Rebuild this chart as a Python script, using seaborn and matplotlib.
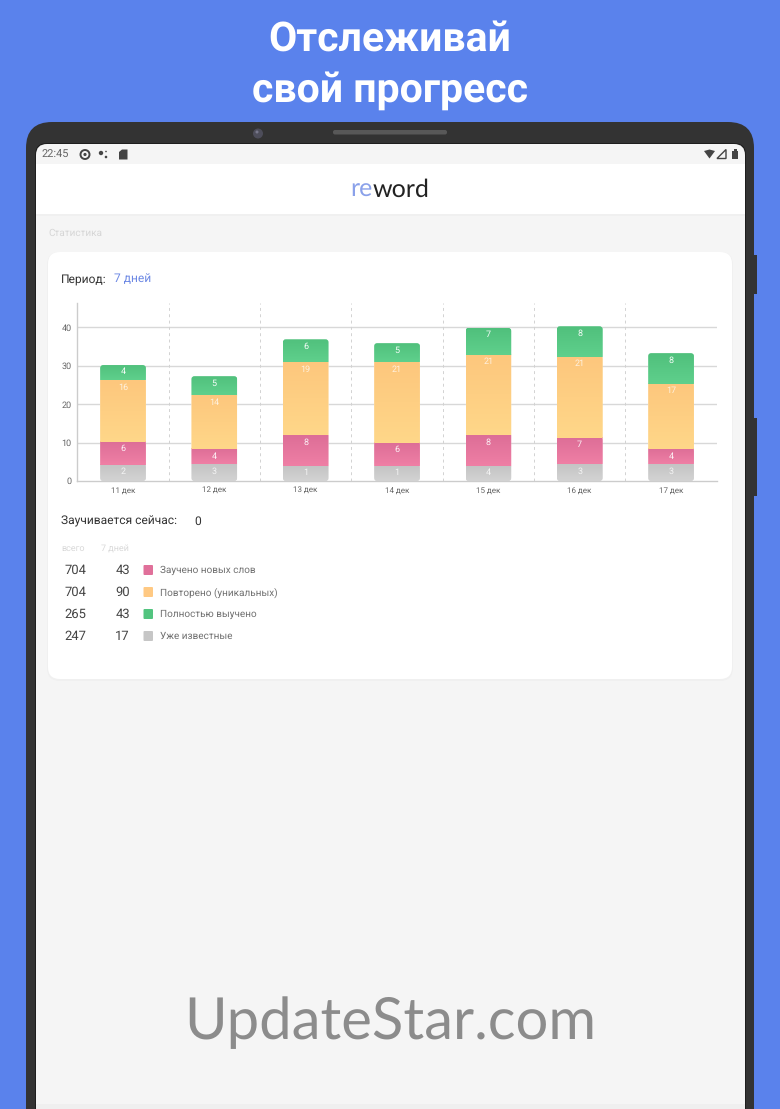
"""reword: экран статистики, столбцы за 7 дней внутри рамки планшета."""

import matplotlib.pyplot as plt
import numpy as np
import pandas as pd
import seaborn as sns
from matplotlib.colors import LinearSegmentedColormap
from matplotlib.patches import Circle, FancyBboxPatch, Polygon, Rectangle
from matplotlib.transforms import IdentityTransform

W, H = 780, 1109

DAYS = ["11 дек", "12 дек", "13 дек", "14 дек", "15 дек", "16 дек", "17 дек"]
# серые столбцы на экране выше своих подписей, поэтому высоты отдельно
KNOWN_HEIGHT = [4.2, 4.3, 3.9, 3.9, 3.9, 4.3, 4.3]
KNOWN_LABEL = [2, 3, 1, 1, 4, 3, 3]
NEW_WORDS = [6, 4, 8, 6, 8, 7, 4]
REPEATED = [16, 14, 19, 21, 21, 21, 17]
LEARNED = [4, 5, 6, 5, 7, 8, 8]
Y_TICKS = [0, 10, 20, 30, 40]

LEGEND_NAMES = ["Заучено новых слов", "Повторено (уникальных)", "Полностью выучено", "Уже известные"]
LEGEND_TOTAL = [704, 704, 265, 247]
LEGEND_WEEK = [43, 90, 43, 17]
LEGEND_COLORS = ["#E0709A", "#FFC983", "#52C47F", "#C6C6C6"]

BLUE = "#5A82EC"
DARK = "#333333"
LIGHT_BG = "#F5F5F5"
ACCENT = "#6C88E4"


def px_text(ax, x, y, s, size, color="#333333", **kw):
    # size в пикселях экрана, при dpi=100 1px = 0.72pt
    kw.setdefault("va", "center")
    kw.setdefault("ha", "left")
    return ax.text(x, y, s, fontsize=size * 0.72, color=color, **kw)


def rbox(ax, x0, y0, x1, y1, r, color, **kw):
    patch = FancyBboxPatch((x0 + r, y0 + r), x1 - x0 - 2 * r, y1 - y0 - 2 * r,
                           boxstyle=f"round,pad={r},rounding_size={r}",
                           fc=color, ec="none", **kw)
    ax.add_patch(patch)
    return patch


def draw_chrome(ax):
    ax.set_xlim(0, W)
    ax.set_ylim(H, 0)
    ax.axis("off")
    ax.add_patch(Rectangle((0, 0), W, H, fc=BLUE, ec="none"))

    px_text(ax, 390, 51, "Отслеживай", 41.2, "white", ha="center", va="baseline", weight="bold")
    px_text(ax, 390, 102, "свой прогресс", 41.2, "white", ha="center", va="baseline", weight="bold")

    # корпус
    ax.add_patch(Rectangle((754, 255), 3, 39, fc=DARK, ec="none"))
    ax.add_patch(Rectangle((754, 418), 3, 78, fc=DARK, ec="none"))
    rbox(ax, 26, 122, 754, H + 60, 26, DARK)
    rbox(ax, 35, 143, 746, H + 40, 12, "#1E1E1E")
    rbox(ax, 36, 144, 745, H + 40, 11, LIGHT_BG)
    ax.add_patch(Circle((258, 133.5), 5, fc="#4D4D5A", ec="none"))
    ax.add_patch(Circle((257, 132), 1.5, fc="#77778A", ec="none"))
    rbox(ax, 333, 130, 447, 134.5, 2, "#585858")

    # статус-бар
    px_text(ax, 42, 155, "22:45", 11, "#666666")
    ax.add_patch(Circle((85, 154.5), 4.5, fc="none", ec="#444444", lw=1.4))
    ax.add_patch(Circle((85, 154.5), 1.6, fc="#444444", ec="none"))
    ax.add_patch(Circle((101, 153), 2.2, fc="#444444", ec="none"))
    ax.add_patch(Circle((106, 151.5), 0.8, fc="#444444", ec="none"))
    ax.add_patch(Circle((106, 157), 1.3, fc="#444444", ec="none"))
    ax.add_patch(Polygon([[119, 152], [122, 149.5], [127.5, 149.5], [127.5, 159.5], [119, 159.5]],
                         fc="#444444", ec="none"))
    ax.add_patch(Polygon([[704, 151], [709.5, 149.5], [715, 151], [709.5, 158.5]], fc="#444444", ec="none"))
    ax.add_patch(Polygon([[717, 158.5], [726, 149.5], [726, 158.5]], fc="none", ec="#444444", lw=1))
    ax.add_patch(Rectangle((732, 150.5), 6, 8.5, fc="#444444", ec="none"))
    ax.add_patch(Rectangle((733.5, 149), 3, 2, fc="#444444", ec="none"))

    # шапка
    ax.add_patch(Rectangle((36, 164), 709, 49.5, fc="white", ec="none"))
    ax.add_patch(Rectangle((36, 213.5), 709, 2, fc="#F0F0F0", ec="none"))
    px_text(ax, 372.5, 190, "re", 25, "#8AA1EA", ha="right", family="Lato")
    px_text(ax, 372.5, 190, "word", 25, "#222222", family="Lato")
    px_text(ax, 48, 233.5, "Статистика", 10, "#D6D6D6")

    # карточка с тенью
    rbox(ax, 47, 252, 733, 681, 13, "#F0F0F0")
    rbox(ax, 48, 252, 732, 679, 12, "white")

    px_text(ax, 61, 279, "Период:", 12.3, "#333333")
    px_text(ax, 114, 279, "7 дней", 12.3, ACCENT)
    px_text(ax, 61, 521.5, "Заучивается сейчас:", 12.3, "#333333")
    px_text(ax, 194, 521.5, "0", 12.3, "#333333")

    px_text(ax, 61, 548.5, "всего", 9.5, "#D8D8D8")
    px_text(ax, 101, 548.5, "7 дней", 9.5, "#D8D8D8")
    row_y = [570, 592, 614, 636]
    for y, name, total, week, color in zip(row_y, LEGEND_NAMES, LEGEND_TOTAL, LEGEND_WEEK, LEGEND_COLORS):
        px_text(ax, 86, y + 0.5, str(total), 13, "#444444", ha="right")
        px_text(ax, 130, y + 0.5, str(week), 13, "#444444", ha="right")
        rbox(ax, 143.5, y - 5, 153, y + 5, 1, color)
        px_text(ax, 160, y + 0.5, name, 9.7, "#707070")

    # низ экрана и водяной знак
    ax.add_patch(Rectangle((36, 1104), 709, 5, fc="#EFEFEF", ec="none"))
    px_text(ax, 390, 1039, "UpdateStar.com", 58, "#8C8C8C", ha="center", va="baseline", family="Lato")


def draw_chart(fig):
    left, right, top, bottom = 77.3, 716.7, 303, 481
    ax = fig.add_axes([left / W, 1 - bottom / H, (right - left) / W, (bottom - top) / H])
    ax.patch.set_alpha(0)

    bases = np.zeros(len(DAYS))
    series = [
        (KNOWN_HEIGHT, KNOWN_LABEL, ("#C4C4C4", "#D3D3D3"), 0.8),
        (NEW_WORDS, NEW_WORDS, ("#DD6E97", "#EF7FA5"), 0.9),
        (REPEATED, REPEATED, ("#FDC77D", "#FFD789"), 0.75),
        (LEARNED, LEARNED, ("#50C07C", "#5FD08C"), 0.95),
    ]
    ymax = (bottom - top) / 3.84
    tops = []
    for heights, labels, shades, alpha in series:
        df = pd.DataFrame({"day": DAYS, "value": heights})
        sns.barplot(data=df, x="day", y="value", order=DAYS, color=shades[1], saturation=1,
                    width=0.5, bottom=bases, ax=ax, zorder=3)
        bases = bases + np.array(heights, dtype=float)
        tops.append((ax.containers[-1], labels, shades, alpha, bases.copy()))

    ax.set_xlim(-0.5, 6.5)
    ax.set_ylim(0, ymax)
    fig.canvas.draw()

    # скруглённый контур столбца: верх зелёного и низ серого
    clips = []
    for i in range(len(DAYS)):
        (x0, y0) = ax.transData.transform((i - 0.25, 0))
        (x1, y1) = ax.transData.transform((i + 0.25, bases[i]))
        r = 3
        clip = FancyBboxPatch((x0 + r, y0 + r), x1 - x0 - 2 * r, y1 - y0 - 2 * r,
                              boxstyle=f"round,pad={r},rounding_size={r}",
                              transform=IdentityTransform())
        clips.append(clip)

    for container, labels, shades, alpha, seg_tops in tops:
        cmap = LinearSegmentedColormap.from_list("seg", list(shades))
        grad = np.linspace(0, 1, 64).reshape(-1, 1)
        for i, (bar, lab) in enumerate(zip(container.patches, labels)):
            y0, h = bar.get_y(), bar.get_height()
            bar.set_clip_path(clips[i])
            img = ax.imshow(grad, cmap=cmap, aspect="auto", zorder=3.5, interpolation="bilinear",
                            extent=(i - 0.25, i + 0.25, y0, y0 + h), origin="upper")
            img.set_clip_path(clips[i])
            ax.annotate(str(lab), (i, seg_tops[i]), xytext=(0, -5), textcoords="offset points",
                        ha="center", va="center", fontsize=6.6, color="white", alpha=alpha, zorder=5)

    ax.set_xlim(-0.5, 6.5)
    ax.set_ylim(0, ymax)
    ax.set_xlabel("")
    ax.set_ylabel("")
    ax.set_yticks(Y_TICKS)
    ax.grid(False)
    for y in Y_TICKS[1:]:
        ax.axhline(y, color="#D8D8D8", lw=1, zorder=1)
    for x in np.arange(0.5, 7, 1):
        ax.axvline(x, color="#D2D2D2", lw=0.7, ls=(0, (3, 3.5)), zorder=1)
    sns.despine(ax=ax, top=True, right=True)
    for side in ("left", "bottom"):
        ax.spines[side].set_color("#CCCCCC")
        ax.spines[side].set_linewidth(1)
    ax.tick_params(axis="x", length=0, labelcolor="#666666", labelsize=6.1, pad=4.5)
    ax.tick_params(axis="y", length=0, labelcolor="#666666", labelsize=6.4, pad=4)
    return ax


def main():
    sns.set_theme(style="white")
    plt.rcParams["font.family"] = ["Roboto", "DejaVu Sans"]
    plt.rcParams["text.hinting"] = "no_hinting"
    plt.rcParams["text.hinting_factor"] = 1
    fig = plt.figure(figsize=(W / 100, H / 100), dpi=100)
    bg = fig.add_axes([0, 0, 1, 1])
    draw_chrome(bg)
    draw_chart(fig)
    fig.savefig("out.png", dpi=100)
    plt.close(fig)


if __name__ == "__main__":
    main()
